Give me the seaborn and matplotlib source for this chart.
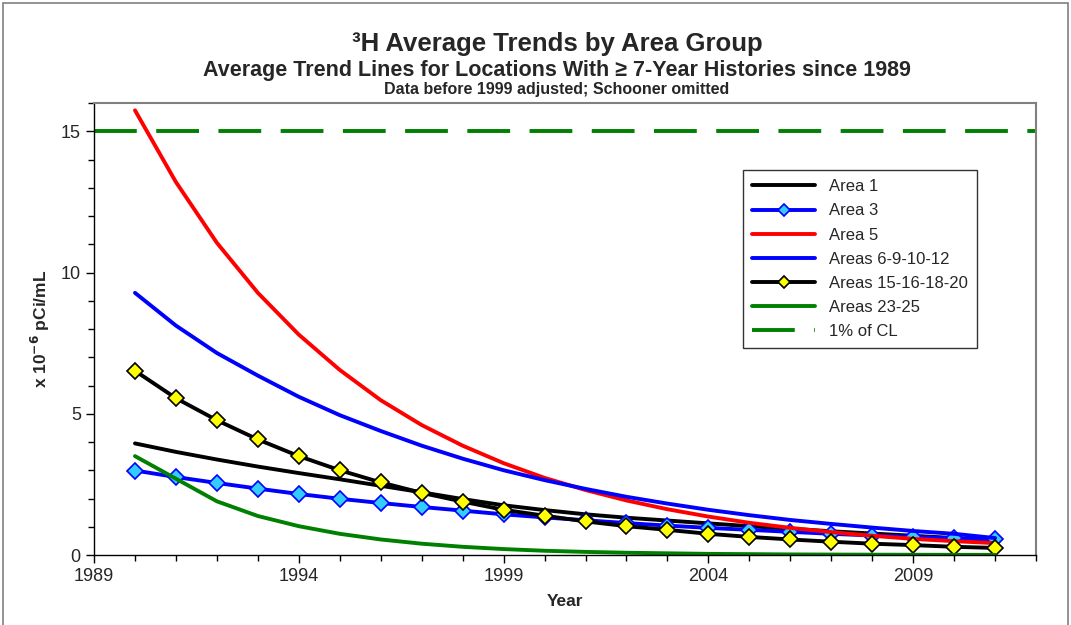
import numpy as np
import pandas as pd
import seaborn as sns
import matplotlib.pyplot as plt
from matplotlib.patches import Rectangle
from matplotlib.ticker import MultipleLocator

# Datos (x 10^-6 pCi/mL)
years = list(range(1990, 2012))
area_1 = [3.95, 3.65, 3.38, 3.13, 2.90, 2.68, 2.45, 2.22, 1.98, 1.76, 1.59,
          1.44, 1.32, 1.22, 1.12, 1.02, 0.93, 0.84, 0.76, 0.68, 0.60, 0.52]
area_3 = [2.99, 2.76, 2.55, 2.35, 2.16, 1.99, 1.84, 1.70, 1.57, 1.44, 1.33,
          1.23, 1.13, 1.04, 0.96, 0.89, 0.82, 0.75, 0.69, 0.64, 0.59, 0.55]
area_5 = [15.74, 13.2, 11.05, 9.28, 7.8, 6.55, 5.48, 4.6, 3.87, 3.25, 2.73,
          2.3, 1.93, 1.62, 1.36, 1.14, 0.96, 0.81, 0.68, 0.57, 0.49, 0.42]
areas_6_12 = [9.28, 8.12, 7.15, 6.35, 5.6, 4.95, 4.39, 3.87, 3.41, 3.0, 2.65,
              2.34, 2.06, 1.82, 1.6, 1.41, 1.24, 1.1, 0.97, 0.85, 0.75, 0.6]
areas_15_20 = [6.52, 5.55, 4.77, 4.09, 3.50, 3.0, 2.57, 2.2, 1.89, 1.6, 1.39,
               1.19, 1.02, 0.89, 0.75, 0.64, 0.55, 0.47, 0.40, 0.35, 0.29, 0.25]
areas_23_25 = [3.5, 2.7, 1.9, 1.38, 1.02, 0.75, 0.55, 0.40, 0.29, 0.21, 0.15,
               0.11, 0.08, 0.06, 0.04, 0.03, 0.02, 0.015, 0.011, 0.008, 0.006, 0.004]
limite_cl = 15
x_ticks = [1989, 1994, 1999, 2004, 2009]

sns.set_style("ticks")
plt.rcParams['font.family'] = ['Liberation Sans', 'DejaVu Sans']

fig = plt.figure(figsize=(10.71, 6.25), dpi=100)
fig.patches.append(Rectangle((0.003, -0.01), 0.994, 1.005, transform=fig.transFigure,
                             fill=False, edgecolor='#808080', lw=1.2))
ax = fig.add_axes([0.0878, 0.112, 0.8796, 0.7232])

lw = 2.8
sns.lineplot(x=years, y=area_1, ax=ax, color='black', lw=lw, label='Area 1')
sns.lineplot(x=years, y=area_3, ax=ax, color='#0000FF', lw=lw, marker='D', markersize=8,
             markerfacecolor='#33CCFF', markeredgecolor='#0000FF', markeredgewidth=1.2,
             label='Area 3')
sns.lineplot(x=years, y=area_5, ax=ax, color='#FF0000', lw=lw, label='Area 5')
sns.lineplot(x=years, y=areas_6_12, ax=ax, color='#0000FF', lw=lw, label='Areas 6-9-10-12')
sns.lineplot(x=years, y=areas_15_20, ax=ax, color='black', lw=lw, marker='D', markersize=8,
             markerfacecolor='#FFFF00', markeredgecolor='black', markeredgewidth=1.2,
             label='Areas 15-16-18-20')
sns.lineplot(x=years, y=areas_23_25, ax=ax, color='#008000', lw=lw, label='Areas 23-25')
ax.axhline(limite_cl, color='#008000', lw=lw, dashes=(11, 5), label='1% of CL')

ax.set_xlim(1989, 2012)
ax.set_ylim(0, 16)
ax.set_xticks(x_ticks)
ax.xaxis.set_minor_locator(MultipleLocator(1))
ax.yaxis.set_major_locator(MultipleLocator(5))
ax.yaxis.set_minor_locator(MultipleLocator(1))
ax.tick_params(which='major', length=6, width=1, labelsize=13, direction='out', color='black')
ax.tick_params(which='minor', length=4, width=1, direction='out', color='black')
for s in ['top', 'right']:
    ax.spines[s].set_color('#808080')
    ax.spines[s].set_linewidth(1.5)
for s in ['left', 'bottom']:
    ax.spines[s].set_color('black')
    ax.spines[s].set_linewidth(1)

ax.set_xlabel('Year', fontsize=12.5, fontweight='bold', labelpad=6)
ax.set_ylabel(r'x 10$^{\mathbf{-6}}$ pCi/mL', fontsize=12.5, fontweight='bold', labelpad=6)

leg = ax.legend(loc='upper left', bbox_to_anchor=(0.68, 0.87), fontsize=12,
                frameon=True, fancybox=False, edgecolor='black', handlelength=3.8,
                numpoints=1, labelspacing=0.55, borderpad=0.55, markerscale=0.8)
leg.get_frame().set_linewidth(1)

fig.text(0.52, 0.918, '³H Average Trends by Area Group', ha='center', va='baseline',
         fontsize=18.5, fontweight='bold')
fig.text(0.52, 0.879, 'Average Trend Lines for Locations With ≥ 7-Year Histories since 1989',
         ha='center', va='baseline', fontsize=15.5, fontweight='bold')
fig.text(0.52, 0.850, 'Data before 1999 adjusted; Schooner omitted', ha='center',
         va='baseline', fontsize=11.5, fontweight='bold')

fig.savefig('out.png', dpi=100)
